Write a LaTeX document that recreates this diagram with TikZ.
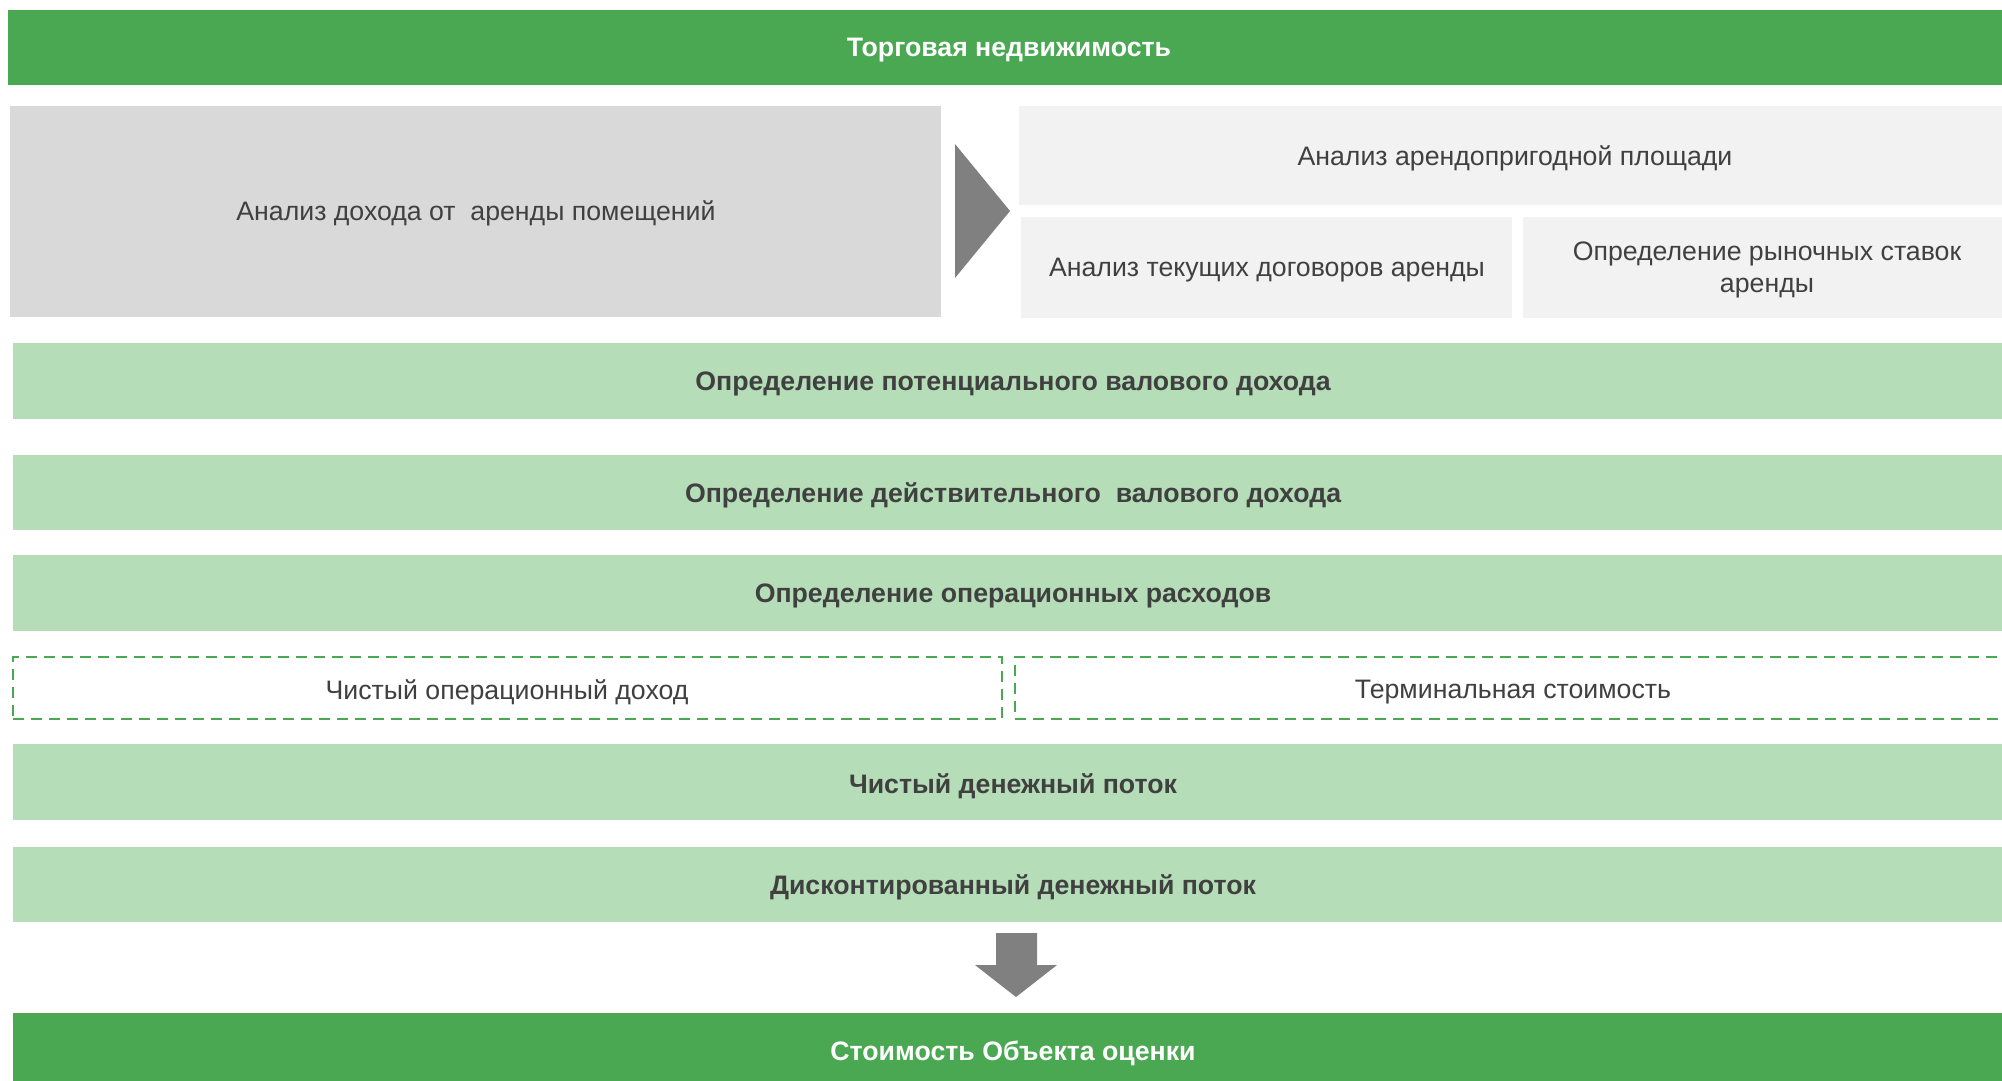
\documentclass[tikz,border=0pt]{standalone}
\usepackage{fontspec}
\setmainfont{Liberation Sans}
\definecolor{dgreen}{HTML}{4AA852}
\definecolor{lgreen}{HTML}{B5DDB8}
\definecolor{gbox}{HTML}{D9D9D9}
\definecolor{lbox}{HTML}{F2F2F2}
\definecolor{arrowgray}{HTML}{808080}
\definecolor{txt}{HTML}{404040}
\begin{document}
\begin{tikzpicture}[x=1pt,y=-1pt,
  base/.style={inner sep=0pt,outer sep=0pt,anchor=north west},
  topbar/.style={base,fill=dgreen},
  greybox/.style={base,fill=gbox},
  lightbox/.style={base,fill=lbox},
  stepbar/.style={base,fill=lgreen},
  dashbox/.style={base,draw=dgreen,line width=2.8pt,dash pattern=on 11pt off 7pt},
  arrowfill/.style={fill=arrowgray},
  plain/.style={text=txt,align=center,inner sep=0pt,font=\fontsize{26.7}{32}\selectfont},
  boldtxt/.style={text=txt,align=center,inner sep=0pt,font=\fontsize{26.7}{32}\selectfont\bfseries},
  whitetxt/.style={text=white,align=center,inner sep=0pt,font=\fontsize{26.7}{32}\selectfont\bfseries}
]
\useasboundingbox (0,0) rectangle (2002,1081);
\clip (0,0) rectangle (2002,1081);
\fill[white] (0,0) rectangle (2002,1081);

\node[topbar,minimum width=2010pt,minimum height=75pt] (top) at (8,10) {};
\node[whitetxt] (toptxt) at (1009,50) {Торговая недвижимость};

\node[greybox,minimum width=931pt,minimum height=211pt] (income) at (10,106) {};
\node[plain] (incometxt) at (476,213) {Анализ дохода от \ аренды помещений};

\node[lightbox,minimum width=990pt,minimum height=99pt] (area) at (1019,106) {};
\node[plain] (areatxt) at (1515,158) {Анализ арендопригодной площади};
\node[lightbox,minimum width=491pt,minimum height=101pt] (leases) at (1021,217) {};
\node[plain] (leasestxt) at (1267,270) {Анализ текущих договоров аренды};
\node[lightbox,minimum width=485pt,minimum height=101pt] (rates) at (1523,217) {};
\node[plain] (ratestxt) at (1767,270) {Определение рыночных ставок\\аренды};

\fill[arrowfill] (955,144) -- (1010,211) -- (955,278) -- cycle;

\node[stepbar,minimum width=1995pt,minimum height=76pt] (pgi) at (13,343) {};
\node[boldtxt] (pgitxt) at (1013,384) {Определение потенциального валового дохода};
\node[stepbar,minimum width=1995pt,minimum height=75pt] (egi) at (13,455) {};
\node[boldtxt] (egitxt) at (1013,495) {Определение действительного \ валового дохода};
\node[stepbar,minimum width=1995pt,minimum height=76pt] (opex) at (13,555) {};
\node[boldtxt] (opextxt) at (1013,596) {Определение операционных расходов};

\node[dashbox,minimum width=989pt,minimum height=62pt] (noi) at (13,657) {};
\node[plain] (noitxt) at (507,692) {Чистый операционный доход};
\node[dashbox,minimum width=1000pt,minimum height=62pt] (tv) at (1015,657) {};
\node[plain] (tvtxt) at (1513,692) {Терминальная стоимость};

\node[stepbar,minimum width=1995pt,minimum height=76pt] (ncf) at (13,744) {};
\node[boldtxt] (ncftxt) at (1013,786) {Чистый денежный поток};
\node[stepbar,minimum width=1995pt,minimum height=75pt] (dcf) at (13,847) {};
\node[boldtxt] (dcftxt) at (1013,887) {Дисконтированный денежный поток};

\fill[arrowfill] (996,933) -- (1037,933) -- (1037,965) -- (1057,965) -- (1016,997) -- (975,965) -- (996,965) -- cycle;

\node[topbar,minimum width=1995pt,minimum height=75pt] (value) at (13,1013) {};
\node[whitetxt] (valuetxt) at (1013,1053) {Стоимость Объекта оценки};
\end{tikzpicture}
\end{document}
